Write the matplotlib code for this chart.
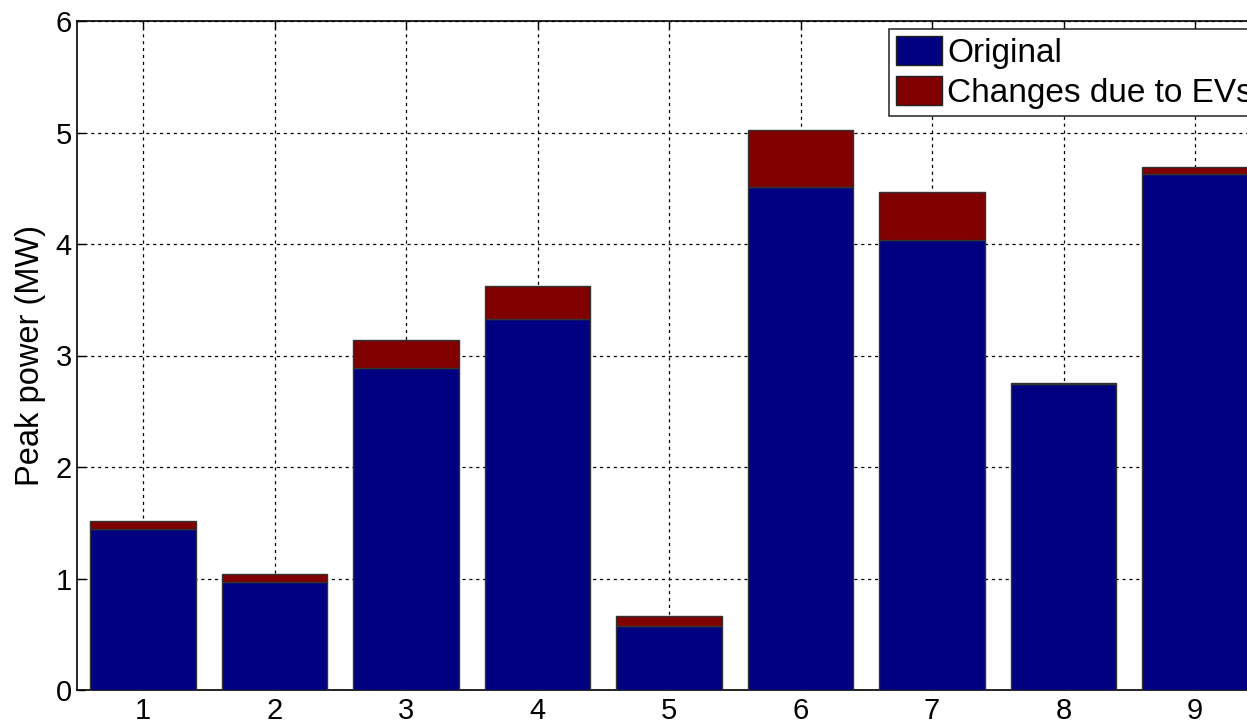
import matplotlib
matplotlib.use("Agg")
import matplotlib.pyplot as plt
import numpy as np

categories = [1, 2, 3, 4, 5, 6, 7, 8, 9]
original = [1.44, 0.97, 2.89, 3.33, 0.57, 4.51, 4.04, 2.74, 4.63]
ev_change = [0.075, 0.07, 0.25, 0.29, 0.095, 0.51, 0.43, 0.015, 0.065]
labels = ["Original", "Changes due to EVs"]
yticks = [0, 1, 2, 3, 4, 5, 6]

plt.rcParams['font.family'] = ['Liberation Sans', 'DejaVu Sans']

W, H = 1247, 726
fig = plt.figure(figsize=(W / 100, H / 100), dpi=100)
left_px, bottom_px, top_px = 77.3, 690, 21
unit = 131.5
ax = fig.add_axes([left_px / W, (H - bottom_px) / H, 9 * unit / W, (bottom_px - top_px) / H])

ax.bar(categories, original, width=0.8, color='#000080', edgecolor='#333333', linewidth=1.0,
       label=labels[0], zorder=3)
ax.bar(categories, ev_change, width=0.8, bottom=original, color='#800000', edgecolor='#333333',
       linewidth=1.0, label=labels[1], zorder=3)

ax.set_xlim(0.5, 9.5)
ax.set_ylim(0, 6)
ax.set_xticks(categories)
ax.set_yticks(yticks)
ax.tick_params(axis='both', direction='in', labelsize=21, length=6, width=1, colors='black')
ax.tick_params(axis='x', top=True, pad=5)
ax.tick_params(axis='y', pad=4)
ax.grid(True, color='black', linestyle=(0, (2.5, 3)), linewidth=0.9, zorder=0)
ax.set_axisbelow(True)
for s in ax.spines.values():
    s.set_linewidth(1.2)
    s.set_color('black')
ax.set_ylabel("Peak power (MW)", fontsize=23.5, labelpad=7)

leg = ax.legend(loc='upper left', bbox_to_anchor=(889 / W, (H - 29) / H),
                bbox_transform=fig.transFigure, fontsize=24, frameon=True, fancybox=False,
                edgecolor='#333333', handlelength=1.38, handleheight=0.95, handletextpad=0.15,
                labelspacing=0.2, borderpad=0.22, borderaxespad=0, framealpha=1)
leg.get_frame().set_linewidth(1.2)
for p in leg.get_patches():
    p.set_edgecolor('#222222')

fig.savefig("out.png", dpi=100)
